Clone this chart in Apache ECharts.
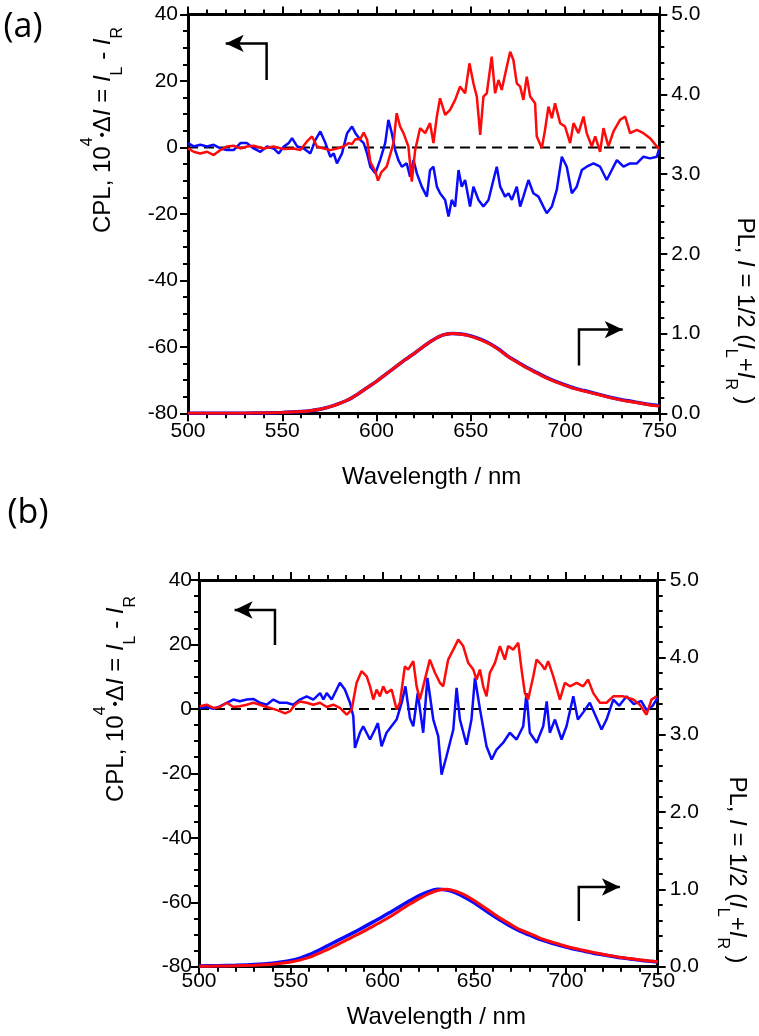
<!DOCTYPE html>
<html>
<head>
<meta charset="utf-8">
<script src="https://cdn.jsdelivr.net/npm/echarts@6/dist/echarts.min.js"></script>
<style>html,body{margin:0;padding:0;background:#fff}#c{width:759px;height:1036px}</style>
</head>
<body>
<div id="c"></div>
<script>
// ---------- data (wavelength nm, value) ----------
const xTicks = [500, 550, 600, 650, 700, 750];
const cplTicks = [-80, -60, -40, -20, 0, 20, 40];
const plTicks = [0, 1, 2, 3, 4, 5];

// Panel (a) CPL, 10^4 dI
const cplA_blue = [[500,1.3],[503,0.3],[506.5,0.8],[510.1,0.3],[513.6,0.8],[517.2,-0.3],[520.7,-0.8],[524.2,-0.8],[527.8,1.3],[531.3,1.3],[534.8,-0.3],[538.4,-1.3],[541.9,0.3],[545.4,-0.3],[548.1,-1.8],[550.8,0.3],[553.4,1.3],[555.2,2.8],[557.9,0.3],[561.4,-0.3],[564.9,-1.8],[567.6,2.3],[570.2,4.8],[572.9,1.3],[575.5,-2.8],[577.3,-1.8],[579,-4.8],[581.7,-1.8],[584.4,4.3],[587,6.3],[588.8,4.3],[591.4,2.3],[593.2,1.3],[595,-1.8],[596.7,-5.8],[599.4,-7.8],[601.9,-3.8],[604.6,1.3],[606.3,8.3],[608.1,4.3],[609.9,-0.8],[611.6,-3.8],[613.4,-5.8],[616,-4.8],[617.8,-8.8],[619.6,-3.8],[621.4,-7.8],[624,-11.8],[626.7,-14.8],[628.4,-6.8],[630.2,-5.8],[632,-11.8],[633.7,-13.8],[636.4,-15.8],[638.2,-20.8],[639.9,-15.8],[641.7,-17.8],[643.5,-6.8],[645.2,-11.8],[647,-9.8],[649.6,-17.8],[651.4,-11.8],[654.1,-15.8],[656.7,-17.8],[659.4,-15.8],[662,-9.8],[663.8,-5.8],[665.6,-11.8],[668.2,-14.8],[670,-13.8],[671.8,-15.8],[674.4,-11.8],[676.2,-17.8],[677.9,-14.8],[680.6,-9.8],[683.2,-13.8],[685.9,-14.8],[688.5,-17.8],[690.3,-19.8],[693,-17.8],[695.6,-12.8],[698.3,-2.8],[700.9,-5.8],[703.6,-13.8],[706.2,-11.8],[708.9,-6.8],[711.5,-5.8],[715.1,-4.8],[718.6,-5.8],[722.1,-9.8],[724.8,-6.8],[727.5,-3.8],[731,-5.8],[734.5,-4.8],[738.1,-4.8],[741.6,-2.8],[745.1,-3.3],[748.7,-2.8],[750,-0.2]];
const cplA_red = [[500,-0.3],[503,-1.3],[506.5,-1.8],[510.1,-1.3],[513.6,-2.3],[517.2,-0.8],[520.7,0.3],[524.2,0.5],[527.8,-0.3],[531.3,0.3],[534.8,0.5],[540.1,-0.3],[545.4,0.3],[550.8,-0.5],[556.1,-0.3],[559.6,-0.8],[563.1,1.8],[565.8,3.3],[568.4,0.3],[572,-0.3],[575.5,-0.8],[579,-0.3],[582.6,0.3],[585.2,1.3],[587,1],[588.8,2.5],[591.4,2.5],[593.2,4.5],[595,2.3],[596.7,-4.3],[599.4,-7.3],[600.8,-10],[602.5,-7.5],[605.4,-5.8],[609,1.3],[610.7,10.3],[612.5,6.3],[614.3,4.3],[616.9,0.3],[618.7,-10.3],[620.5,-0.8],[623.1,5.8],[625.8,4.3],[628.4,7.3],[630.2,1.3],[632,9.3],[633.7,14.8],[636.4,9.8],[639,11.3],[641.7,14.3],[644.3,18.3],[647,16.3],[649.3,25.3],[651.4,19.3],[653.2,15.3],[655,3.8],[656.7,15.3],[658.5,16.3],[661.1,27.3],[662.9,16.3],[664.7,20.3],[666.4,17.3],[669.1,24.3],[670.9,28.8],[672.6,26.3],[674.4,19.3],[676.2,18.3],[677.9,14.3],[679.7,21.3],[681.5,15.3],[684.1,13.3],[685,3.3],[687.7,-0.2],[689.4,5.3],[691.2,12.3],[693,8.8],[694.7,13.3],[697.4,7.3],[700,6.3],[702.7,1.3],[704.5,7.3],[707.1,4.3],[709.8,9.3],[711.5,4.3],[714.2,0.3],[716,3.3],[718.6,-1.3],[720.4,5.8],[723,0.3],[725.7,4.8],[729.2,8.3],[731.9,9.3],[734.5,4.3],[738.1,5.3],[741.6,4.3],[745.1,2.8],[748.7,0.3],[750,-0.5]];

// Panel (a) PL
const plA_blue = [[500,0],[510,0],[520,0.001],[530,0.002],[540,0.005],[550,0.01],[555,0.015],[560,0.022],[565,0.033],[570,0.05],[575,0.08],[580,0.12],[585,0.17],[590,0.24],[595,0.32],[600,0.4],[605,0.49],[610,0.58],[615,0.67],[620,0.75],[625,0.84],[630,0.92],[635,0.98],[640,1.0],[645,0.995],[650,0.97],[655,0.93],[660,0.875],[665,0.8],[670,0.71],[675,0.64],[680,0.57],[685,0.51],[690,0.45],[695,0.4],[700,0.355],[705,0.315],[710,0.285],[715,0.255],[720,0.225],[725,0.195],[730,0.17],[735,0.15],[740,0.13],[745,0.11],[750,0.095]];
const plA_red = [[500,0],[510,0],[520,0.001],[530,0.002],[540,0.005],[550,0.01],[555,0.015],[560,0.022],[565,0.033],[570,0.05],[575,0.08],[580,0.12],[585,0.17],[590,0.24],[595,0.32],[600,0.4],[605,0.49],[610,0.58],[615,0.67],[620,0.75],[625,0.84],[630,0.92],[635,0.98],[640,1.0],[645,0.99],[650,0.965],[655,0.925],[660,0.87],[665,0.795],[670,0.705],[675,0.635],[680,0.565],[685,0.505],[690,0.445],[695,0.395],[700,0.35],[705,0.31],[710,0.28],[715,0.25],[720,0.22],[725,0.19],[730,0.165],[735,0.145],[740,0.125],[745,0.105],[750,0.09]];

// Panel (b) CPL
const cplB_blue = [[500.5,0.3],[504.2,0.6],[507.8,0],[511.4,0.8],[515.1,1.9],[518.7,2.9],[522.3,2.4],[526,2.9],[529.6,3.1],[533.2,1.9],[536.9,1.3],[540.5,2.9],[544.1,1.9],[547.8,1.9],[551.4,1.3],[555,2.9],[558.7,3.9],[562.3,2.9],[566,4.9],[567.8,2.9],[569.6,4.9],[572.3,2.9],[575,6],[576.8,8.1],[579.5,6],[582.3,1.9],[584.1,-2.3],[585,-12.1],[587.7,-7.4],[589.5,-5.4],[593.2,-9.5],[595.9,-6.4],[597.5,-4.4],[599.5,-11.6],[602.2,-7.4],[607.7,-3.3],[610.5,2],[612.5,7],[615,-3],[616.8,-5.4],[619.2,4.9],[622.2,-7.4],[624.5,9.6],[627.7,-3.3],[630.4,-8.5],[632.2,-20.4],[634.9,-14.7],[638.6,-6.4],[640.4,6.5],[642.2,-3.3],[645.8,-11.1],[648.5,-3.3],[650.4,9.6],[653.1,0],[656.7,-11.6],[659.5,-15.7],[662.2,-12.6],[665.8,-10.5],[669.4,-7.4],[673.1,-9.5],[676.7,-5.4],[678.5,4.9],[680.3,-7.4],[684,-10.5],[687.6,-5.4],[689.5,2.3],[691.2,-7.4],[694,-3.3],[697.6,-9.5],[700.3,-5.4],[704,3.9],[706.5,-3.3],[709.5,-1],[713,1.9],[716,-2],[719.4,-6.4],[722.1,-3.3],[725.8,2.9],[729,1],[733,3.9],[737,1.5],[741,2.5],[743.9,-0.4],[747,0.8],[749.4,2.9],[750,3.5]];
const cplB_red = [[500.5,0.8],[504.2,1.3],[507.8,0.3],[511.4,0.6],[515.1,1.9],[518.7,0.6],[522.3,0.8],[526,1.3],[529.6,1.9],[533.2,1.3],[536.9,0.6],[540.5,0],[544.1,-0.7],[546.9,-1.4],[549.6,-0.7],[552.3,1.3],[555,2.3],[558.7,1.9],[562.3,1.3],[565.9,1.9],[569.6,0.6],[573.2,1.3],[576.8,0.3],[580.5,-1.8],[583.2,-0.2],[585.9,8.1],[588.6,11.7],[591.4,10.1],[593.2,7],[595,2.9],[596.8,6],[597.7,6.5],[598.6,3.9],[600.4,7],[602.2,4.9],[605,6],[607.7,-0.2],[609.5,1.9],[612.2,13.2],[614,12.2],[616.8,14.8],[618.6,7],[620.4,2.9],[622.2,7],[625.8,15.3],[628.6,11.2],[631.3,8.1],[633.1,7],[635.8,15.3],[638.6,18.4],[641.3,21.5],[644,19.5],[646.7,14.3],[649.5,12.2],[651.3,9.1],[653.1,12.2],[654.9,7],[656.7,3.9],[658.5,11.2],[661.3,14.3],[664,19.5],[666.7,15.3],[668.5,19.5],[671.3,18.4],[674,20.5],[675.8,12.2],[677.6,4.9],[679.4,2.9],[682.2,10.1],[684,15.3],[686.7,13.7],[688.5,12.2],[690.3,14.8],[693.1,10.1],[696.7,2.9],[699.4,8.1],[702.1,7],[705.8,8.1],[709.4,7],[712.1,9.1],[714.9,4.9],[718.5,1.9],[722.1,1.9],[725.8,3.9],[731.2,3.9],[736.7,2.9],[740.3,1.3],[743.9,-1.8],[746.6,2.9],[749.4,3.9]];

// Panel (b) PL
const plB_blue = [[500,0.01],[510,0.012],[520,0.018],[530,0.028],[540,0.045],[545,0.06],[550,0.08],[555,0.11],[560,0.155],[565,0.21],[570,0.27],[575,0.33],[580,0.39],[585,0.45],[590,0.515],[595,0.58],[600,0.645],[605,0.715],[610,0.785],[615,0.855],[620,0.92],[625,0.97],[630,1.0],[635,0.99],[640,0.955],[645,0.895],[650,0.825],[655,0.745],[660,0.665],[665,0.59],[670,0.52],[675,0.46],[680,0.41],[685,0.36],[690,0.32],[695,0.285],[700,0.255],[705,0.225],[710,0.2],[715,0.175],[720,0.155],[725,0.135],[730,0.115],[735,0.1],[740,0.085],[745,0.072],[750,0.06]];
const plB_red = [[500,0.005],[510,0.008],[520,0.012],[530,0.02],[540,0.033],[545,0.045],[550,0.06],[555,0.085],[560,0.12],[565,0.17],[570,0.22],[575,0.28],[580,0.34],[585,0.4],[590,0.46],[595,0.525],[600,0.59],[605,0.66],[610,0.735],[615,0.81],[620,0.88],[625,0.94],[630,0.985],[635,1.0],[640,0.975],[645,0.925],[650,0.855],[655,0.775],[660,0.695],[665,0.615],[670,0.545],[675,0.48],[680,0.43],[685,0.38],[690,0.335],[695,0.3],[700,0.265],[705,0.235],[710,0.21],[715,0.185],[720,0.16],[725,0.14],[730,0.12],[735,0.105],[740,0.09],[745,0.077],[750,0.065]];

// zero reference line and annotation arrows (data coordinates)
const zeroLine = [[500,0],[750,0]];
const arrowA_left = [[541.7,20.3],[541.7,31.3],[520,31.3]];
const arrowA_right = [[707.4,0.6],[707.4,1.05],[730.6,1.05]];
const arrowB_left = [[541.4,19.8],[541.4,30.7],[519.4,30.7]];
const arrowB_right = [[707,0.59],[707,1.03],[729.4,1.03]];

// ---------- chart ----------
const FONT = "'Liberation Sans', Arial, sans-serif";
const BLK = '#000';
const BLUE = '#0a0aff';
const RED = '#ff0a0a';

function xAx(grid, pos, showLabel, margin, name, nameGap) {
  return {
    type: 'value', gridIndex: grid, position: pos, min: 500, max: 750, interval: 50,
    axisLine: {show: true, onZero: false, lineStyle: {color: BLK, width: 3}},
    axisTick: {show: true, inside: false, length: 8, lineStyle: {color: BLK, width: 2}},
    minorTick: {show: true, splitNumber: 5, length: 5, lineStyle: {color: BLK, width: 2}},
    splitLine: {show: false}, minorSplitLine: {show: false},
    axisLabel: {show: showLabel, color: BLK, fontSize: 21, fontFamily: FONT, margin: margin},
    name: name || '', nameLocation: 'middle', nameGap: nameGap || 0,
    nameTextStyle: {color: BLK, fontSize: 24, fontFamily: FONT, padding: [0, 0, 0, 16]}
  };
}
function yCpl(grid, margin) {
  return {
    type: 'value', gridIndex: grid, position: 'left', min: -80, max: 40, interval: 20,
    axisLine: {show: true, onZero: false, lineStyle: {color: BLK, width: 3}},
    axisTick: {show: true, inside: false, length: 8, lineStyle: {color: BLK, width: 2}},
    minorTick: {show: true, splitNumber: 4, length: 5, lineStyle: {color: BLK, width: 2}},
    splitLine: {show: false},
    axisLabel: {color: BLK, fontSize: 21, fontFamily: FONT, margin: margin}
  };
}
function yPl(grid, margin) {
  return {
    type: 'value', gridIndex: grid, position: 'right', min: 0, max: 5, interval: 1,
    axisLine: {show: true, onZero: false, lineStyle: {color: BLK, width: 3}},
    axisTick: {show: true, inside: false, length: 8, lineStyle: {color: BLK, width: 2}},
    minorTick: {show: true, splitNumber: 5, length: 5, lineStyle: {color: BLK, width: 2}},
    splitLine: {show: false},
    axisLabel: {color: BLK, fontSize: 21, fontFamily: FONT, margin: margin, formatter: v => v.toFixed(1)}
  };
}
function lineS(x, y, data, color, width, smooth, z) {
  return {type: 'line', xAxisIndex: x, yAxisIndex: y, data: data, showSymbol: false, symbol: 'none',
    smooth: smooth, lineStyle: {color: color, width: width}, z: z, silent: true};
}
function dashS(x, y) {
  return {type: 'line', xAxisIndex: x, yAxisIndex: y, data: zeroLine, showSymbol: false, symbol: 'none',
    lineStyle: {color: BLK, width: 2, type: [10, 6]}, z: 1, silent: true};
}
function arrowS(x, y, pts, rot) {
  const data = pts.map((p, i) => i === pts.length - 1
    ? {value: p, symbol: 'arrow', symbolSize: [13, 18], symbolRotate: rot, itemStyle: {color: BLK}}
    : {value: p, symbol: 'none'});
  return {type: 'line', xAxisIndex: x, yAxisIndex: y, data: data, showSymbol: true, showAllSymbol: true,
    symbol: 'none', lineStyle: {color: BLK, width: 2.5, join: 'miter'}, itemStyle: {color: BLK}, z: 6, silent: true};
}

const rich = {
  n: {fontSize: 24, fontFamily: FONT, fill: BLK, lineHeight: 46},
  i: {fontSize: 24, fontFamily: FONT, fontStyle: 'italic', fill: BLK, lineHeight: 46},
  sub: {fontSize: 16, fontFamily: FONT, fill: BLK, lineHeight: 16, verticalAlign: 'bottom'},
  sup: {fontSize: 16, fontFamily: FONT, fill: BLK, lineHeight: 26, verticalAlign: 'top'},
  b: {fontSize: 15, fontFamily: FONT, fill: BLK, lineHeight: 46}
};
const leftTitle = '{n|CPL, 10}{sup|4}{b|•}{n|Δ}{i|I}{n| = }{i|I}{sub|L}{n| - }{i|I}{sub|R}';
const rightTitle = '{n|PL, }{i|I}{n| = 1/2 (}{i|I}{sub|L}{n|+}{i|I}{sub|R}{n| )}';

function title(x, y, text, rot) {
  return {type: 'text', x: x, y: y, rotation: rot, silent: true,
    style: {text: text, rich: rich, align: 'center', verticalAlign: 'middle', fontFamily: FONT, fontSize: 24, fill: BLK}};
}

const option = {
  animation: false,
  backgroundColor: '#fff',
  grid: [
    {left: 188, top: 14.5, width: 471.3, height: 398.8},
    {left: 199, top: 580, width: 458.7, height: 386.7}
  ],
  xAxis: [
    xAx(0, 'bottom', true, 7, 'Wavelength / nm', 52),
    xAx(0, 'top', false, 0),
    xAx(1, 'bottom', true, 4, 'Wavelength / nm', 39),
    xAx(1, 'top', false, 0)
  ],
  yAxis: [yCpl(0, 10), yPl(0, 12), yCpl(1, 7), yPl(1, 12)],
  series: [
    dashS(0, 0),
    lineS(0, 1, plA_blue, BLUE, 3.5, 0.3, 2),
    lineS(0, 1, plA_red, RED, 3, 0.3, 3),
    lineS(0, 0, cplA_blue, BLUE, 2.5, false, 4),
    lineS(0, 0, cplA_red, RED, 2.5, false, 5),
    arrowS(0, 0, arrowA_left, 90),
    arrowS(0, 1, arrowA_right, -90),
    dashS(2, 2),
    lineS(2, 3, plB_blue, BLUE, 3.5, 0.3, 2),
    lineS(2, 3, plB_red, RED, 3, 0.3, 3),
    lineS(2, 2, cplB_blue, BLUE, 2.5, false, 4),
    lineS(2, 2, cplB_red, RED, 2.5, false, 5),
    arrowS(2, 2, arrowB_left, 90),
    arrowS(2, 3, arrowB_right, -90)
  ],
  graphic: [
    {type: 'text', x: 23, y: 27, silent: true, style: {text: '(a)', fontFamily: "'Open Sans', sans-serif", fontSize: 34, fill: BLK, align: 'center', verticalAlign: 'middle'}},
    {type: 'text', x: 28, y: 513, silent: true, style: {text: '(b)', fontFamily: "'Open Sans', sans-serif", fontSize: 34, fill: BLK, align: 'center', verticalAlign: 'middle'}},
    title(103, 130, leftTitle, Math.PI / 2),
    title(745, 311, rightTitle, -Math.PI / 2),
    title(116, 699, leftTitle, Math.PI / 2),
    title(737, 870, rightTitle, -Math.PI / 2)
  ]
};
const chart = echarts.init(document.getElementById('c'), null, {renderer: 'canvas'});
chart.setOption(option);
</script>
</body>
</html>
